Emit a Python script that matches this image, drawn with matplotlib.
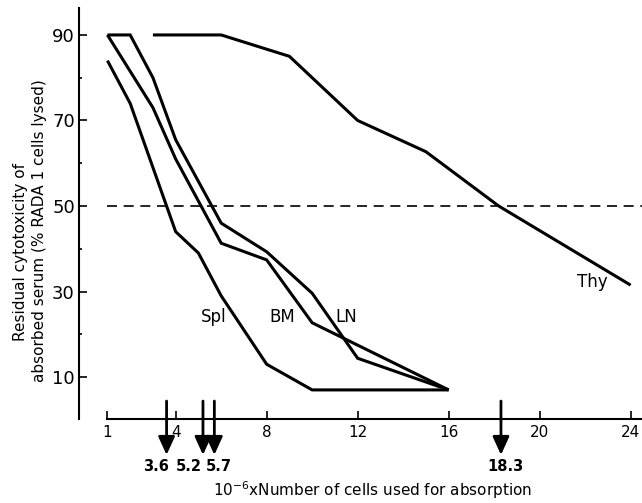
import matplotlib
matplotlib.use('Agg')
import matplotlib.pyplot as plt
import numpy as np

"""residual cytotoxicity of absorbed serum vs number of absorbing cells"""

# cell numbers (x 10^6) and residual cytotoxicity (% lysed)
spl_x = [1, 2, 4, 5, 6, 8, 10, 16]
spl_y = [84, 74, 44, 39, 29, 13, 7, 7]
bm_x = [1, 3, 4, 6, 8, 10, 16]
bm_y = [90, 73, 61, 41.3, 37.4, 22.7, 7]
ln_x = [1, 2, 3, 4, 6, 8, 10, 12, 16]
ln_y = [90, 90, 80, 65.5, 46, 39.3, 29.6, 14.4, 7]
thy_x = [3, 6, 9, 12, 15, 18.2, 24]
thy_y = [90, 90, 85, 70, 62.7, 50, 31.5]

half_lysis = 50
arrow_vals = [3.6, 5.2, 5.7, 18.3]
arrow_text = ['3.6', '5.2', '5.7', '18.3']
arrow_dx = [-7.5, -10.5, 3, 3]  # label offset in points

curve_labels = ['Spl', 'BM', 'LN', 'Thy']
label_pos = [(5.67, 24.0), (8.69, 24.0), (11.48, 24.0), (22.33, 32.3)]

xticks = [1, 4, 8, 12, 16, 20, 24]
yticks = [10, 30, 50, 70, 90]
yminor = [20, 40, 60, 80]

plt.rcParams['font.family'] = 'DejaVu Sans'

fig = plt.figure(figsize=(6.42, 5.03), dpi=100)
ax = fig.add_axes([79 / 642, 1 - 419 / 503, 1 - 79 / 642, 411 / 503])

lw = 2.2
for xs, ys in [(spl_x, spl_y), (bm_x, bm_y), (ln_x, ln_y), (thy_x, thy_y)]:
    ax.plot(xs, ys, color='black', lw=lw, solid_joinstyle='miter',
            solid_capstyle='butt')

ax.hlines(half_lysis, 1, 24.5, color='black', lw=1.2,
          linestyles=(0, (6, 4)))

for (tx, ty), name in zip(label_pos, curve_labels):
    ax.text(tx, ty, name, fontsize=12, ha='center', va='center')

for v, t, dx in zip(arrow_vals, arrow_text, arrow_dx):
    ax.annotate('', xy=(v, -8.2), xytext=(v, 4.4),
                arrowprops=dict(arrowstyle='-|>,head_length=0.55,head_width=0.25',
                                lw=2, color='black', mutation_scale=20,
                                shrinkA=0, shrinkB=0),
                annotation_clip=False)
    ax.annotate(t, xy=(v, -10.8), xytext=(dx, 0), textcoords='offset points',
                ha='center', va='center', fontsize=10.5, fontweight='bold',
                annotation_clip=False)

ax.set_xlim(-0.25, 24.5)
ax.set_ylim(0.2, 96.3)
ax.spines['top'].set_visible(False)
ax.spines['right'].set_visible(False)
ax.spines['bottom'].set_bounds(1, 24.5)
ax.spines['left'].set_linewidth(1.5)
ax.spines['bottom'].set_linewidth(1.5)

ax.set_xticks(xticks)
ax.set_xticklabels([str(t) for t in xticks])
ax.set_yticks(yticks)
ax.set_yticks(yminor, minor=True)
ax.tick_params(axis='x', direction='in', length=6, width=1.2,
               labelsize=11, pad=4)
ax.tick_params(axis='y', direction='in', length=6, width=1.2,
               labelsize=13, pad=3)
ax.tick_params(axis='y', which='minor', direction='in', length=2.5, width=1.2)

fig.text(21 / 642, 1 - 252 / 503, 'Residual cytotoxicity of', rotation=90,
         ha='center', va='center', fontsize=11)
fig.text(40 / 642, 1 - 231 / 503, 'absorbed serum (% RADA 1 cells lysed)',
         rotation=90, ha='center', va='center', fontsize=11)
fig.text(372 / 642, 1 - 490 / 503,
         '10$^{-6}$xNumber of cells used for absorption',
         ha='center', va='center', fontsize=11)

plt.savefig('out.png', dpi=100)
